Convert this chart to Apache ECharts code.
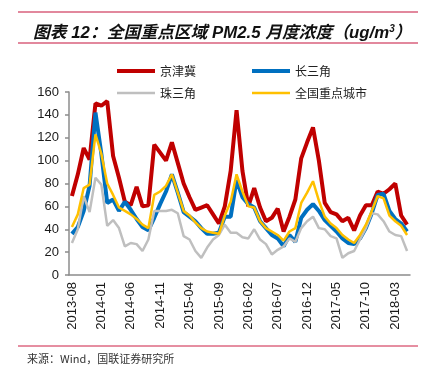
<!DOCTYPE html>
<html>
<head>
<meta charset="utf-8">
<script src="https://cdn.jsdelivr.net/npm/echarts@6/dist/echarts.min.js"></script>
<style>html,body{margin:0;padding:0;background:#fff}#c{width:429px;height:382px}</style>
</head>
<body>
<div id="c"></div>
<script>
const months = ["2013-08","2013-09","2013-10","2013-11","2013-12","2014-01","2014-02","2014-03","2014-04","2014-05","2014-06","2014-07","2014-08","2014-09","2014-10","2014-11","2014-12","2015-01","2015-02","2015-03","2015-04","2015-05","2015-06","2015-07","2015-08","2015-09","2015-10","2015-11","2015-12","2016-01","2016-02","2016-03","2016-04","2016-05","2016-06","2016-07","2016-08","2016-09","2016-10","2016-11","2016-12","2017-01","2017-02","2017-03","2017-04","2017-05","2017-06","2017-07","2017-08","2017-09","2017-10","2017-11","2017-12","2018-01","2018-02","2018-03","2018-04","2018-05"];
const jjj = [69,88,111,101,150,148,152,104,85,64,61,77,60,61,114,107,100,116,98,80,68,57,59,61,53,45,60,91,144,91,60,76,59,47,50,58,38,51,66,102,116,129,100,63,55,53,47,50,39,52,61,61,73,71,75,80,52,44];
const csj = [36,42,56,78,142,106,63,66,56,64,57,49,42,39,50,62,73,88,72,55,51,47,41,36,36,37,51,51,83,68,62,59,47,41,35,32,25,35,29,50,57,62,56,48,43,38,32,28,27,32,41,54,70,71,56,49,45,38];
const zsj = [28,40,69,55,85,79,43,48,41,25,28,27,21,31,56,56,56,57,54,34,31,21,15,24,31,35,44,37,37,33,32,40,31,27,18,22,25,32,29,41,47,51,41,40,34,32,15,19,21,31,41,54,53,47,38,35,34,21];
const qg = [42,53,76,79,123,106,80,70,59,56,53,49,44,41,70,73,78,88,72,56,52,46,41,38,37,36,52,64,88,73,60,59,47,41,38,35,30,38,41,63,72,82,65,51,45,41,35,31,28,35,44,56,69,67,52,47,43,35];
const yTicks = [0,20,40,60,80,100,120,140,160];

const chart = echarts.init(document.getElementById('c'), null, {renderer:'canvas'});
const fontFam = '"Liberation Sans", Arial, "Noto Sans CJK SC", sans-serif';
const legText = {fontSize:12, color:'#222', fontFamily:'"Noto Sans CJK SC", sans-serif'};
const thick = 'path://M0,0 L38,0 L38,4 L0,4 Z';
const thin = 'path://M0,0 L38,0 L38,2.5 L0,2.5 Z';
chart.setOption({
  animation:false,
  backgroundColor:'#fff',
  title:{
    text:'图表 12：全国重点区域 PM2.5 月度浓度（ug/m{s|3}）',
    left:28, top:19,
    textStyle:{
      fontSize:16.8, fontWeight:'bold', fontStyle:'italic', color:'#111',
      fontFamily:'"Liberation Sans", Arial, "Noto Sans CJK SC", sans-serif',
      rich:{ s:{fontSize:10, fontWeight:'bold', fontStyle:'italic', verticalAlign:'top', padding:[0,0,8,0], color:'#111'} }
    }
  },
  graphic:[
    {type:'line', shape:{x1:18,y1:12,x2:418,y2:12}, style:{stroke:'#d9607c', lineWidth:1.5}},
    {type:'line', shape:{x1:18,y1:43,x2:418,y2:43}, style:{stroke:'#d9607c', lineWidth:1.5}},
    {type:'line', shape:{x1:18,y1:346,x2:418,y2:346}, style:{stroke:'#cc1f45', lineWidth:1}},
    {type:'text', left:27, top:353, style:{text:'来源：Wind，国联证券研究所', fontSize:11, fill:'#333', fontFamily:'"Noto Sans CJK SC", sans-serif'}}
  ],
  legend:[
    {data:[{name:'京津冀', icon:thick},{name:'长三角', icon:thick}], left:112, top:60, itemWidth:38, itemHeight:14, itemGap:56, textStyle:legText},
    {data:[{name:'珠三角', icon:thin},{name:'全国重点城市', icon:thin}], left:112, top:82, itemWidth:38, itemHeight:14, itemGap:56, textStyle:legText}
  ],
  grid:{left:69, right:19, top:92, bottom:107, containLabel:false},
  xAxis:{
    type:'category', data:months, boundaryGap:true,
    axisLine:{lineStyle:{color:'#8c8c8c', width:1.5}},
    axisTick:{interval:4, length:4, lineStyle:{color:'#8c8c8c', width:1.5}},
    axisLabel:{interval:4, rotate:90, fontSize:13, color:'#1a1a1a', margin:7, fontFamily:fontFam},
    splitLine:{show:false}
  },
  yAxis:{
    type:'value', min:yTicks[0], max:yTicks[yTicks.length-1], interval:20,
    axisLine:{show:true, lineStyle:{color:'#8c8c8c', width:1.5}},
    axisTick:{show:true, length:4, lineStyle:{color:'#8c8c8c', width:1.5}},
    axisLabel:{fontSize:13, color:'#1a1a1a', margin:10, fontFamily:fontFam},
    splitLine:{show:false}
  },
  series:[
    {name:'京津冀', type:'line', data:jjj, symbol:'none', lineStyle:{color:'#c00000', width:4}, itemStyle:{color:'#c00000'}, z:2},
    {name:'长三角', type:'line', data:csj, symbol:'none', lineStyle:{color:'#0070c0', width:4}, itemStyle:{color:'#0070c0'}, z:3},
    {name:'珠三角', type:'line', data:zsj, symbol:'none', lineStyle:{color:'#bfbfbf', width:2.5}, itemStyle:{color:'#bfbfbf'}, z:4},
    {name:'全国重点城市', type:'line', data:qg, symbol:'none', lineStyle:{color:'#ffc000', width:2.5}, itemStyle:{color:'#ffc000'}, z:5}
  ]
});
</script>
</body>
</html>
